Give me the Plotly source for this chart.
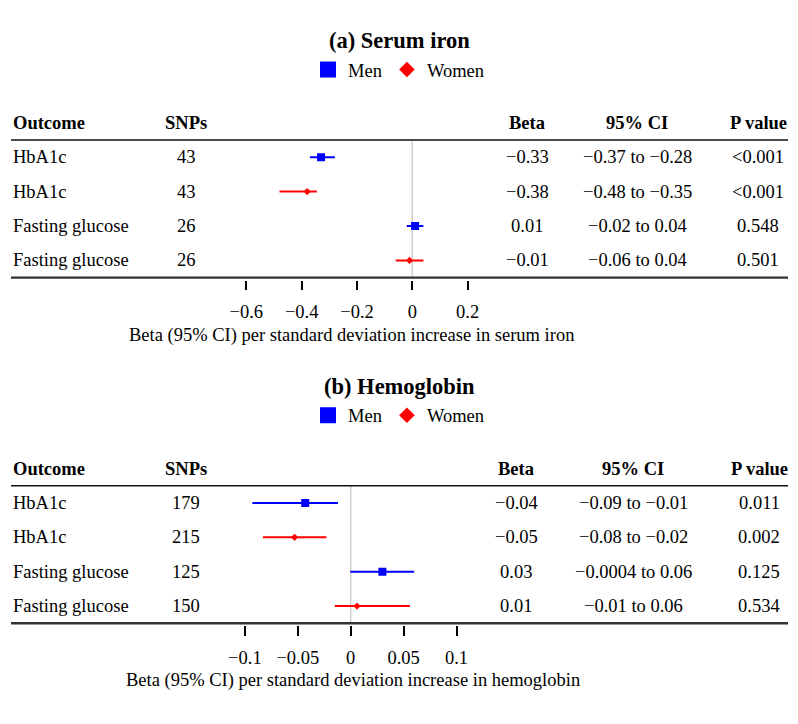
import plotly.graph_objects as go

# The page body has an 8px default margin: the figure is sized and
# positioned so that the visible 798x724 window matches the reference.
PAGE_MARGIN = 8
W, H = 798 - PAGE_MARGIN, 724 - PAGE_MARGIN
FONT = "Liberation Serif, Times New Roman, serif"

# ---------------- data: panel (a) Serum iron ----------------
a_outcome = ["HbA1c", "HbA1c", "Fasting glucose", "Fasting glucose"]
a_snps = ["43", "43", "26", "26"]
a_sex = ["Men", "Women", "Men", "Women"]
a_beta = [-0.33, -0.38, 0.01, -0.01]
a_low = [-0.37, -0.48, -0.02, -0.06]
a_high = [-0.28, -0.345, 0.04, 0.04]
a_beta_txt = ["−0.33", "−0.38", "0.01", "−0.01"]
a_ci_txt = ["−0.37 to −0.28", "−0.48 to −0.35", "−0.02 to 0.04", "−0.06 to 0.04"]
a_p_txt = ["&lt;0.001", "&lt;0.001", "0.548", "0.501"]
a_tickvals = [-0.6, -0.4, -0.2, 0, 0.2]
a_ticktext = ["−0.6", "−0.4", "−0.2", "0", "0.2"]

# ---------------- data: panel (b) Hemoglobin ----------------
b_outcome = ["HbA1c", "HbA1c", "Fasting glucose", "Fasting glucose"]
b_snps = ["179", "215", "125", "150"]
b_sex = ["Men", "Women", "Men", "Women"]
b_beta = [-0.043, -0.053, 0.030, 0.006]
b_low = [-0.093, -0.083, -0.0004, -0.015]
b_high = [-0.012, -0.023, 0.060, 0.056]
b_beta_txt = ["−0.04", "−0.05", "0.03", "0.01"]
b_ci_txt = ["−0.09 to −0.01", "−0.08 to −0.02", "−0.0004 to 0.06", "−0.01 to 0.06"]
b_p_txt = ["0.011", "0.002", "0.125", "0.534"]
b_tickvals = [-0.1, -0.05, 0, 0.05, 0.1]
b_ticktext = ["−0.1", "−0.05", "0", "0.05", "0.1"]

headers = ["Outcome", "SNPs", "Beta", "95% CI", "P value"]
sex_style = {"Men": ("#0000FF", "square", 8, 16), "Women": ("#FF0000", "diamond", 5.5, 12)}


def px(x):
    return (x - PAGE_MARGIN) / W


def py(y):
    return 1 - (y - PAGE_MARGIN) / H


panels = [
    dict(title="<b>(a) Serum iron</b>", off=0.0, outcome=a_outcome, snps=a_snps, sex=a_sex,
         beta=a_beta, low=a_low, high=a_high, beta_txt=a_beta_txt, ci_txt=a_ci_txt, p_txt=a_p_txt,
         tickvals=a_tickvals, ticktext=a_ticktext, zero=412.3, ppu=276.6, rng=(-0.75, 0.35),
         cols=[11, 186, 527, 637, 758], xtitle_x=351,
         xtitle="Beta (95% CI) per standard deviation increase in serum iron"),
    dict(title="<b>(b) Hemoglobin</b>", off=345.7, outcome=b_outcome, snps=b_snps, sex=b_sex,
         beta=b_beta, low=b_low, high=b_high, beta_txt=b_beta_txt, ci_txt=b_ci_txt, p_txt=b_p_txt,
         tickvals=b_tickvals, ticktext=b_ticktext, zero=350.7, ppu=1058.0, rng=(-0.15, 0.15),
         cols=[11, 186, 516, 633, 759], xtitle_x=353,
         xtitle="Beta (95% CI) per standard deviation increase in hemoglobin"),
]

fig = go.Figure()
annotations = []
shapes = []
layout = {}

for i, p in enumerate(panels):
    k = "" if i == 0 else str(i + 1)
    xa, ya = "x" + k, "y" + k
    legname = "legend" + k
    off = p["off"]
    top_line = 140 + off
    bot_line = 277.6 + off
    rows = list(range(len(p["outcome"])))

    # axes
    x0px = p["zero"] + p["rng"][0] * p["ppu"]
    x1px = p["zero"] + p["rng"][1] * p["ppu"]
    layout["xaxis" + k] = dict(
        domain=[px(x0px), px(x1px)], range=list(p["rng"]), anchor="free",
        position=py(bot_line + 2), showline=False, showgrid=False, zeroline=False,
        ticks="outside", ticklen=9.5, tickwidth=1.5, tickcolor="#000000",
        tickvals=p["tickvals"], ticktext=p["ticktext"], ticklabelstandoff=6,
        tickfont=dict(family=FONT, size=18.5, color="#000000"), fixedrange=True,
    )
    layout["yaxis" + k] = dict(
        domain=[py(bot_line), py(top_line)], range=[len(rows) - 0.5, -0.5],
        visible=False, fixedrange=True, anchor=xa,
    )
    layout[legname] = dict(
        x=px(399), xanchor="center", y=py(70 + off), yanchor="middle", orientation="h",
        font=dict(family=FONT, size=18.5, color="#000000"), bgcolor="rgba(0,0,0,0)",
        itemclick=False, itemdoubleclick=False,
    )

    # reference line at zero
    shapes.append(dict(type="line", xref=xa, yref=ya + " domain", x0=0, x1=0, y0=0, y1=1,
                       line=dict(color="#CFCFCF", width=1.5), layer="below"))
    # table lines
    shapes.append(dict(type="line", xref="paper", yref="paper", x0=px(11), x1=px(788),
                       y0=py(top_line), y1=py(top_line), line=dict(color="#111111", width=1.6)))
    shapes.append(dict(type="line", xref="paper", yref="paper", x0=px(11), x1=px(788),
                       y0=py(bot_line), y1=py(bot_line), line=dict(color="#333333", width=2.4)))

    # forest marks per sex
    for sex in ["Men", "Women"]:
        color, sym, size, legsize = sex_style[sex]
        idx = [r for r in rows if p["sex"][r] == sex]
        fig.add_trace(go.Scatter(
            x=[p["beta"][r] for r in idx], y=idx, xaxis=xa, yaxis=ya, mode="markers",
            marker=dict(symbol=sym, size=size, color=color, line=dict(width=0)),
            error_x=dict(type="data", symmetric=False,
                         array=[p["high"][r] - p["beta"][r] for r in idx],
                         arrayminus=[p["beta"][r] - p["low"][r] for r in idx],
                         color=color, thickness=2, width=0),
            showlegend=False, hoverinfo="skip",
        ))
        fig.add_trace(go.Scatter(
            x=[None], y=[None], xaxis=xa, yaxis=ya, mode="markers", name=sex,
            marker=dict(symbol=sym, size=legsize, color=color, line=dict(width=0)),
            legend=legname, showlegend=True,
        ))

    # title
    annotations.append(dict(text=p["title"], x=px(399), y=py(41 + off), xref="paper", yref="paper",
                            showarrow=False, xanchor="center", yanchor="middle",
                            font=dict(family=FONT, size=22.5, color="#000000")))
    # headers
    cols = p["cols"]
    for j, h in enumerate(headers):
        annotations.append(dict(text="<b>" + h + "</b>", x=px(cols[j]), y=py(123 + off),
                                xref="paper", yref="paper", showarrow=False,
                                xanchor="left" if j == 0 else "center", yanchor="middle",
                                font=dict(family=FONT, size=18.5, color="#000000")))
    # table body
    for r in rows:
        vals = [p["outcome"][r], p["snps"][r], p["beta_txt"][r], p["ci_txt"][r], p["p_txt"][r]]
        for j, v in enumerate(vals):
            annotations.append(dict(text=v, x=px(cols[j]), y=r, xref="paper", yref=ya,
                                    showarrow=False, xanchor="left" if j == 0 else "center",
                                    yanchor="middle",
                                    font=dict(family=FONT, size=18.5, color="#000000")))
    # x-axis title
    annotations.append(dict(text=p["xtitle"], x=px(p["xtitle_x"]), y=py(335 + off),
                            xref="paper", yref="paper", showarrow=False, xanchor="center",
                            yanchor="middle", font=dict(family=FONT, size=18.5, color="#000000")))

fig.update_layout(
    width=W, height=H, margin=dict(l=0, r=0, t=0, b=0),
    paper_bgcolor="#FFFFFF", plot_bgcolor="rgba(0,0,0,0)",
    font=dict(family=FONT, size=18.5, color="#000000"),
    annotations=annotations, shapes=shapes, **layout,
)

fig.write_html("out.html")
